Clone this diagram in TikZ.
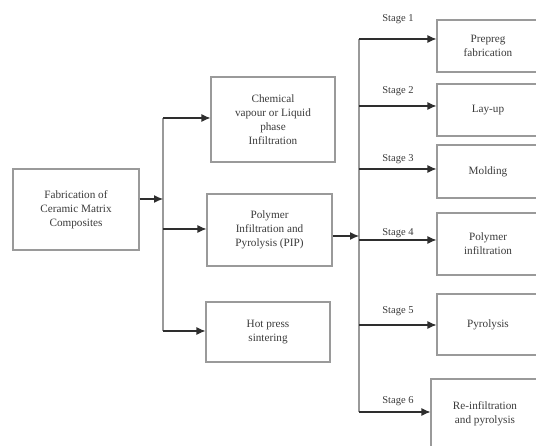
\documentclass[tikz,border=0pt]{standalone}
\usepackage{fontspec}
\setmainfont{Liberation Serif}
\usetikzlibrary{arrows.meta}
\definecolor{boxline}{HTML}{9A9A9A}
\definecolor{txt}{HTML}{3A3A3A}
\definecolor{arrline}{HTML}{2E2E2E}
\begin{document}
\begin{tikzpicture}[x=1pt,y=-1pt,
  box/.style={draw=boxline,line width=1.1pt,align=center,inner sep=0pt,text=txt,
    font=\fontsize{11.2}{14}\selectfont},
  arr/.style={draw=arrline,line width=1.1pt,-{Latex[length=9pt,width=8pt]}},
  vline/.style={draw=boxline,line width=1.1pt},
  stagelbl/.style={text=txt,font=\fontsize{10.5}{12}\selectfont,inner sep=0pt}]
\useasboundingbox (0,0) rectangle (536,446);
\clip (0,0) rectangle (536,446);
% first column
\node[box,minimum width=126pt,minimum height=81pt] (fab) at (76,209.5) {Fabrication of\\Ceramic Matrix\\Composites};
% second column
\node[box,minimum width=124pt,minimum height=85pt] (cvi) at (273,119.5) {Chemical\\vapour or Liquid\\phase\\Infiltration};
\node[box,minimum width=125pt,minimum height=72pt] (pip) at (269.5,230) {Polymer\\Infiltration and\\Pyrolysis (PIP)};
\node[box,minimum width=124pt,minimum height=60pt] (hot) at (268,332) {Hot press\\sintering};
% third column
\node[box,minimum width=102pt,minimum height=52pt] (b1) at (488,46) {Prepreg\\fabrication};
\node[box,minimum width=102pt,minimum height=52pt] (b2) at (488,110) {Lay-up};
\node[box,minimum width=102pt,minimum height=53pt] (b3) at (488,171.5) {Molding};
\node[box,minimum width=102pt,minimum height=62pt] (b4) at (488,244) {Polymer\\infiltration};
\node[box,minimum width=102pt,minimum height=61pt] (b5) at (488,324.5) {Pyrolysis};
\node[box,minimum width=108pt,minimum height=70pt] (b6) at (485,414) {Re-infiltration\\and pyrolysis};
% first split
\coordinate (j0) at (163,199);
\coordinate (j1) at (163,118);
\coordinate (j2) at (163,229);
\coordinate (j3) at (163,331);
\draw[vline] (j1) -- (j3);
\draw[arr] (j0 -| fab.east) -- (j0);
\draw[arr] (j1) -- (j1 -| cvi.west);
\draw[arr] (j2) -- (j2 -| pip.west);
\draw[arr] (j3) -- (j3 -| hot.west);
% stages
\coordinate (s0) at (359,236);
\coordinate (s1) at (359,39);
\coordinate (s2) at (359,106);
\coordinate (s3) at (359,169);
\coordinate (s4) at (359,240);
\coordinate (s5) at (359,325);
\coordinate (s6) at (359,412);
\draw[vline] (s1) -- (s6);
\draw[arr] (s0 -| pip.east) -- (s0);
\draw[arr] (s1) -- (s1 -| b1.west);
\draw[arr] (s2) -- (s2 -| b2.west);
\draw[arr] (s3) -- (s3 -| b3.west);
\draw[arr] (s4) -- (s4 -| b4.west);
\draw[arr] (s5) -- (s5 -| b5.west);
\draw[arr] (s6) -- (s6 -| b6.west);
\node[stagelbl] (l1) at (398,19) {Stage 1};
\node[stagelbl] (l2) at (398,91) {Stage 2};
\node[stagelbl] (l3) at (398,159) {Stage 3};
\node[stagelbl] (l4) at (398,233) {Stage 4};
\node[stagelbl] (l5) at (398,311) {Stage 5};
\node[stagelbl] (l6) at (398,401) {Stage 6};
\end{tikzpicture}
\end{document}
